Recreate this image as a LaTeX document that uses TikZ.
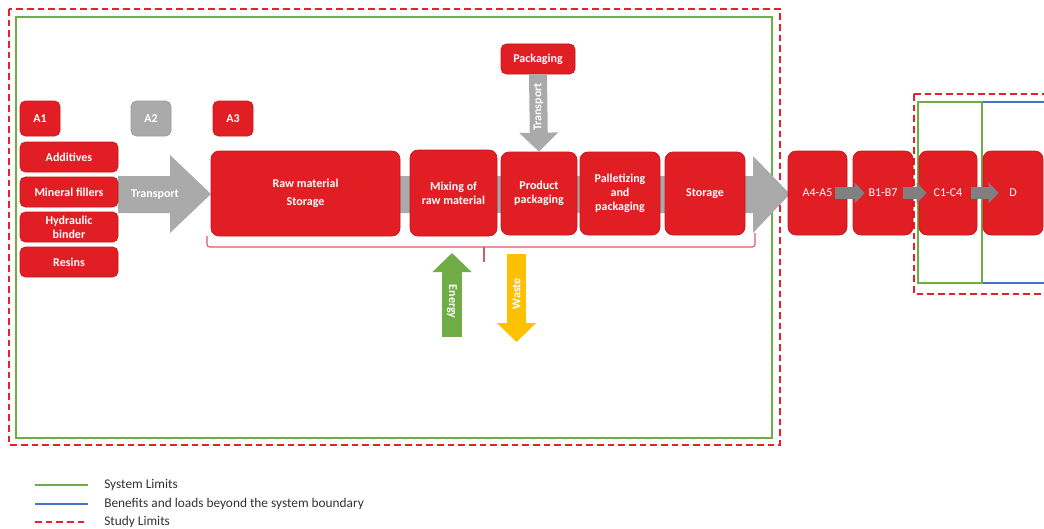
\documentclass[tikz,border=0pt]{standalone}
\usepackage{fontspec}
\setmainfont{Carlito}
\usetikzlibrary{arrows.meta}
\definecolor{boxred}{RGB}{224,30,36}
\definecolor{boxedge}{RGB}{196,22,28}
\definecolor{arrgray}{RGB}{170,170,170}
\definecolor{darkgray}{RGB}{128,128,128}
\definecolor{sysgreen}{RGB}{112,173,71}
\definecolor{bblue}{RGB}{68,114,196}
\definecolor{studyred}{RGB}{232,32,44}
\definecolor{wasteyellow}{RGB}{255,192,0}
\definecolor{bracketred}{RGB}{214,90,100}
\definecolor{legendtext}{RGB}{50,50,50}
\begin{document}
\begin{tikzpicture}[x=0.75pt,y=-0.75pt,
  box/.style={fill=boxred, draw=boxedge, line width=0.5pt, rounded corners=4pt,
    text=white, align=center, inner sep=0pt,
    font=\bfseries\fontsize{9}{10.5}\selectfont},
  plainbox/.style={box, rounded corners=6pt, font=\fontsize{9}{10.5}\selectfont},
  bigbox/.style={box, rounded corners=6pt},
  graybox/.style={box, fill=arrgray, draw=arrgray!90!black},
  wh/.style 2 args={minimum width=#1*0.75pt, minimum height=#2*0.75pt},
  lbl/.style={text=white, inner sep=0pt, font=\bfseries\fontsize{9}{10.5}\selectfont},
  studyline/.style={studyred, line width=1.2pt, dash pattern=on 5pt off 3pt},
  sysline/.style={sysgreen, line width=1.1pt},
  benline/.style={bblue, line width=1.1pt},
  smallarr/.style={darkgray, line width=9pt, -{Triangle[length=7.5pt, width=15pt]}},
  legtext/.style={anchor=west, inner sep=0pt, text=legendtext, font=\fontsize{10}{12}\selectfont}
]
\useasboundingbox (0,0) rectangle (1044,528);

% limits
\draw[studyline] (9,9) rectangle (780,445);
\draw[sysline] (16,17) rectangle (772,438);
\draw[studyline] (914,94) -- (1050,94);
\draw[studyline] (914,94) -- (914,294) -- (1050,294);
\draw[benline] (982,102) -- (1050,102);
\draw[benline] (982,283) -- (1050,283);
\draw[sysline] (918,102) rectangle (982,283);

% gray process arrow behind A3 boxes
\fill[arrgray] (400,176) -- (753,176) -- (753,156) -- (790,194) -- (753,233) -- (753,213) -- (400,213) -- cycle;
% transport arrow A2
\fill[arrgray] (118,176) -- (170,176) -- (170,155) -- (211,194) -- (170,233) -- (170,213) -- (118,213) -- cycle;
\node[lbl] (transp) at (155,195) {Transport};

% A1 column
\node[box, wh={40}{35}] (a1) at (40,118.5) {A1};
\node[graybox, wh={40}{35}] (a2) at (151,118.5) {A2};
\node[box, wh={40}{35}] (a3) at (233,118.5) {A3};
\node[box, wh={98}{30}] (add) at (69,157) {Additives};
\node[box, wh={98}{30}] (min) at (69,192) {Mineral fillers};
\node[box, wh={98}{30}] (hyd) at (69,227) {Hydraulic\\binder};
\node[box, wh={98}{30}] (res) at (69,262) {Resins};

% A3 process
\node[bigbox, wh={189}{85}] (raw) at (305.5,193.5) {Raw material\\[3pt]Storage};
\node[bigbox, wh={87}{86}] (mix) at (453.5,193) {Mixing of\\raw material};
\node[bigbox, wh={76}{83}] (prod) at (539,193.5) {Product\\packaging};
\node[bigbox, wh={80}{83}] (pall) at (620,193.5) {Palletizing\\and\\packaging};
\node[bigbox, wh={80}{83}] (stor) at (705,193.5) {Storage};
\node[box, wh={74}{30}] (pack) at (538,59) {Packaging};

% vertical transport
\draw[arrgray, line width=13.5pt, -{Triangle[length=14.25pt, width=28.5pt]}] (pack.south) -- (prod.north)
  node[lbl, rotate=90, pos=0.42] (vtransp) {Transport};

% bracket
\coordinate (brl) at (207,236);
\coordinate (brr) at (755,233);
\coordinate (brm) at (484,247);
\draw[bracketred, line width=0.8pt, rounded corners=2pt] (brl) |- (brm) -| (brr);
\draw[bracketred, line width=0.8pt] (brm) -- ++(0,15);

% energy and waste
\coordinate (en1) at (452,337);
\coordinate (en2) at (452,253);
\draw[sysgreen, line width=15pt, -{Triangle[length=14.25pt, width=28.5pt]}] (en1) -- (en2)
  node[lbl, rotate=-90, pos=0.42] (enlbl) {Energy};
\coordinate (wa1) at (516.5,254);
\coordinate (wa2) at (516.5,342);
\draw[wasteyellow, line width=14.25pt, -{Triangle[length=14.25pt, width=28.5pt]}] (wa1) -- (wa2)
  node[lbl, rotate=90, pos=0.45] (walbl) {Waste};

% modules beyond
\node[plainbox, wh={59}{84}] (a45) at (817.5,193) {A4-A5};
\node[plainbox, wh={60}{84}] (b17) at (883,193) {B1-B7};
\node[plainbox, wh={58}{84}] (c14) at (948,193) {C1-C4};
\node[plainbox, wh={60}{84}] (d) at (1013,193) {D};
\draw[smallarr] ([xshift=-9]a45.east) -- ([xshift=9]b17.west);
\draw[smallarr] ([xshift=-8]b17.east) -- ([xshift=6]c14.west);
\draw[smallarr] ([xshift=-5]c14.east) -- ([xshift=12]d.west);

% legend
\coordinate (g1) at (35,485); \coordinate (g2) at (88,485);
\coordinate (b1) at (35,504); \coordinate (b2) at (88,504);
\coordinate (r1) at (35,522); \coordinate (r2) at (88,522);
\draw[sysline] (g1) -- (g2);
\draw[benline] (b1) -- (b2);
\draw[studyline] (r1) -- (r2);
\node[legtext] (lg) at (104,485) {System Limits};
\node[legtext] (lb) at (104,504) {Benefits and loads beyond the system boundary};
\node[legtext] (lr) at (104,522) {Study Limits};
\end{tikzpicture}
\end{document}
